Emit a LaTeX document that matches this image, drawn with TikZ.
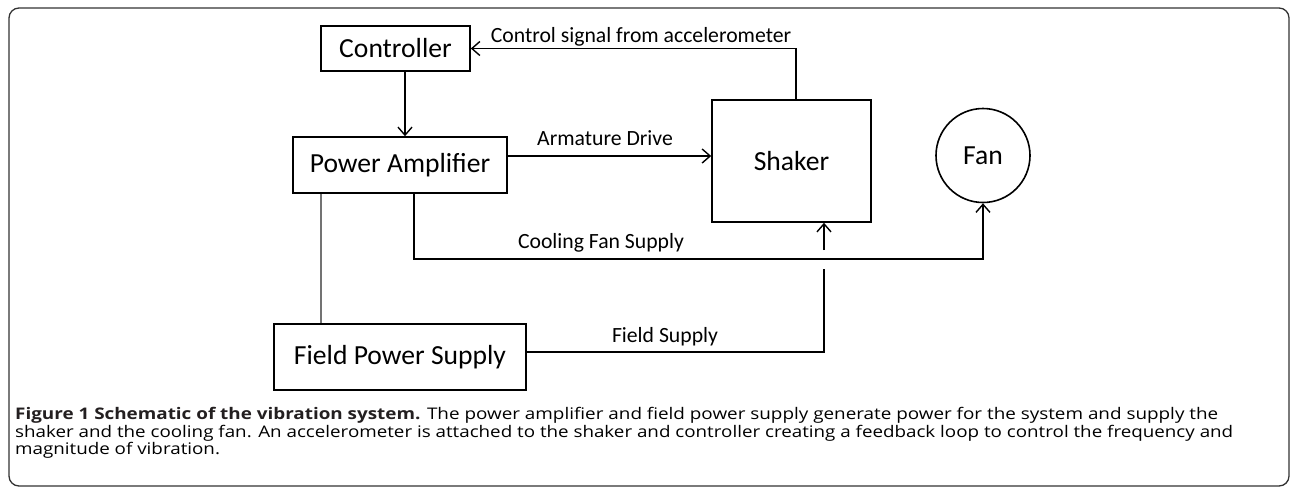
\documentclass[tikz,border=0pt]{standalone}
\usepackage{fontspec}
\setmainfont{Carlito}
\newfontfamily\capfont[Ligatures=NoCommon]{Open Sans}
\usetikzlibrary{arrows.meta}
\definecolor{capgray}{HTML}{4A4A4A}
\definecolor{capdark}{HTML}{231F20}
\newsavebox\capboxA
\newsavebox\capboxB
\newsavebox\capboxC
\newlength\capwdA
\newlength\capwdB
\AtBeginDocument{%
\sbox\capboxA{\capfont\fontsize{16}{18}\selectfont\textcolor{capdark}{\bfseries Figure 1 Schematic of the vibration system.} The power amplifier and field power supply generate power for the system and supply the}%
\sbox\capboxB{\capfont\fontsize{16}{18}\selectfont shaker and the cooling fan. An accelerometer is attached to the shaker and controller creating a feedback loop to control the frequency and}%
\sbox\capboxC{\capfont\fontsize{16}{18}\selectfont magnitude of vibration.}%
\setlength\capwdA{\wd\capboxA}%
\setlength\capwdB{\wd\capboxB}%
\pgfmathsetmacro\sxA{1203/\capwdA}%
\pgfmathsetmacro\sxB{1218/\capwdB}%
}
\begin{document}
\begin{tikzpicture}[x=1pt,y=-1pt,
  boxnode/.style={draw, line width=1.6pt, inner sep=0pt, font=\fontsize{27.6}{30}\selectfont},
  lbl/.style={inner sep=0pt, anchor=base, font=\fontsize{21.7}{24}\selectfont},
  conn/.style={line width=1.4pt},
  arr/.style={conn, -{Straight Barb[length=8pt,width=14pt,line width=1.4pt]}},
  capline/.style={inner sep=0pt, anchor=base west, text=capgray}]
\useasboundingbox (0,0) rectangle (1290,488);
\draw[rounded corners=10pt, line width=1.3pt, black!80] (9,8) rectangle (1289,486);

\node[boxnode, minimum width=149pt, minimum height=45pt] (ctrl) at (395.5,48.5) {Controller};
\node[boxnode, minimum width=214pt, minimum height=56pt] (pa) at (400,165) {Power Amplifier};
\node[boxnode, minimum width=159pt, minimum height=122pt] (shaker) at (791.5,161) {Shaker};
\node[boxnode, circle, minimum size=94pt] (fan) at (983,155.5) {Fan};
\node[boxnode, minimum width=252pt, minimum height=66pt] (fps) at (400,357) {Field Power Supply};

\coordinate (xc) at (405,0);
\coordinate (xs) at (796,0);
\coordinate (ya) at (0,156);
\coordinate (xg) at (321,0);
\coordinate (xcf) at (414,0);
\coordinate (cf) at (983,259);
\coordinate (yfs) at (0,352);
\coordinate (fsgap) at (824,269);
\coordinate (fsup) at (824,250);

\draw[arr] (ctrl.south -| xc) -- (pa.north -| xc);
\draw[arr] (shaker.north -| xs) |- (ctrl.east);
\draw[arr] (pa.east |- ya) -- (shaker.west |- ya);
\draw[conn, black!55] (pa.south -| xg) -- (fps.north -| xg);
\draw[arr] (pa.south -| xcf) |- (cf) -- (fan.south);
\draw[conn] (fps.east |- yfs) -| (fsgap);
\draw[arr] (fsup) -- (shaker.south -| fsup);

\node[lbl] (l1) at (641,42) {Control signal from accelerometer};
\node[lbl] (l2) at (605,145) {Armature Drive};
\node[lbl] (l3) at (601,248) {Cooling Fan Supply};
\node[lbl] (l4) at (665,342) {Field Supply};

\node[capline] (c1) at (15,419.5) {\scalebox{\sxA}[1]{\usebox\capboxA}};
\node[capline] (c2) at (15,437) {\scalebox{\sxB}[1]{\usebox\capboxB}};
\node[capline] (c3) at (15,454.5) {\scalebox{\sxB}[1]{\usebox\capboxC}};
\end{tikzpicture}
\end{document}
